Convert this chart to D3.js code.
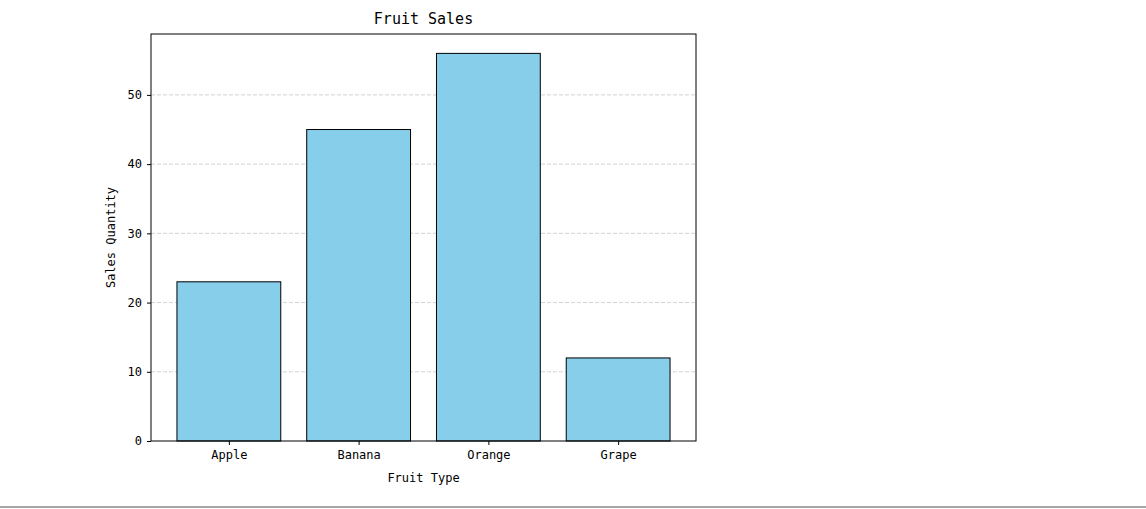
<!DOCTYPE html>
<html>
<head>
<meta charset="utf-8">
<script src="https://cdn.jsdelivr.net/npm/d3@7"></script>
<style>
  body { margin: 0; background: #fff; }
  text { font-family: "DejaVu Sans Mono", monospace; fill: #000; }
</style>
</head>
<body>
<div id="app"></div>
<script>
const fruits = ['Apple', 'Banana', 'Orange', 'Grape']
const sales = [23, 45, 56, 12]
const yTicks = [0, 10, 20, 30, 40, 50]

const W = 1146, H = 509
const plot = {left: 151, right: 696, top: 34, bottom: 441}

const svg = d3.select('#app').append('svg').attr('width', W).attr('height', H)

const x = d3.scaleLinear().domain([-0.6, fruits.length - 0.4]).range([plot.left, plot.right])
const y = d3.scaleLinear().domain([0, d3.max(sales) * 1.05]).range([plot.bottom, plot.top])
const barW = x(0.8) - x(0)

// grid
svg.append('g')
  .selectAll('line')
  .data(yTicks.filter((d) => d > 0))
  .join('line')
  .attr('x1', plot.left).attr('x2', plot.right)
  .attr('y1', (d) => y(d)).attr('y2', (d) => y(d))
  .attr('stroke', '#c8c8c8').attr('stroke-width', 0.8)
  .attr('stroke-dasharray', '4,2')

// bars
svg.append('g')
  .selectAll('rect')
  .data(sales)
  .join('rect')
  .attr('x', (d, i) => x(i) - barW / 2)
  .attr('y', (d) => y(d))
  .attr('width', barW)
  .attr('height', (d) => y(0) - y(d))
  .attr('fill', '#87ceeb')
  .attr('stroke', '#000')
  .attr('stroke-width', 1)

// axes
const xAxis = d3.axisBottom(x).tickValues(d3.range(fruits.length)).tickFormat((i) => fruits[i]).tickSize(4).tickPadding(5)
const yAxis = d3.axisLeft(y).tickValues(yTicks).tickSize(4).tickPadding(5)

svg.append('g').attr('transform', `translate(0,${plot.bottom})`).call(xAxis)
  .call((g) => g.select('.domain').remove())
  .selectAll('text').attr('font-size', 12)
svg.append('g').attr('transform', `translate(${plot.left},0)`).call(yAxis)
  .call((g) => g.select('.domain').remove())
  .selectAll('text').attr('font-size', 12)
svg.selectAll('.tick text').style('font-family', '"DejaVu Sans Mono", monospace')

// frame
svg.append('rect')
  .attr('x', plot.left).attr('y', plot.top)
  .attr('width', plot.right - plot.left).attr('height', plot.bottom - plot.top)
  .attr('fill', 'none').attr('stroke', '#000').attr('stroke-width', 1)

// labels
svg.append('text').attr('x', (plot.left + plot.right) / 2).attr('y', 24)
  .attr('text-anchor', 'middle').attr('font-size', 15).text('Fruit Sales')
svg.append('text').attr('x', (plot.left + plot.right) / 2).attr('y', 482)
  .attr('text-anchor', 'middle').attr('font-size', 12).text('Fruit Type')
svg.append('text').attr('transform', `translate(115,${(plot.top + plot.bottom) / 2}) rotate(-90)`)
  .attr('text-anchor', 'middle').attr('font-size', 12).text('Sales Quantity')

// bottom separator
svg.append('line').attr('x1', 0).attr('x2', W).attr('y1', 507).attr('y2', 507)
  .attr('stroke', '#888').attr('stroke-width', 1.5)
</script>
</body>
</html>
